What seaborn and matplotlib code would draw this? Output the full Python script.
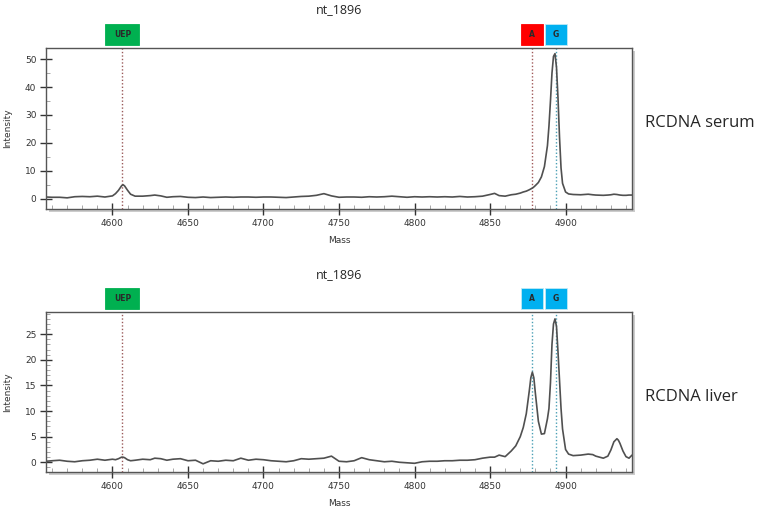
import matplotlib
matplotlib.use("Agg")
import matplotlib.pyplot as plt
import matplotlib.transforms as mtransforms
from matplotlib.patches import Rectangle
from matplotlib.ticker import MultipleLocator
import seaborn as sns

# mass axis shared by both spectra
mass = [4556, 4560, 4565, 4570, 4575, 4580, 4585, 4590, 4595, 4600,
        4602, 4604, 4606, 4607, 4608, 4610, 4612, 4615, 4620, 4625,
        4628, 4632, 4636, 4640, 4645, 4650, 4655, 4660, 4665, 4670,
        4675, 4680, 4685, 4690, 4695, 4700, 4705, 4710, 4715, 4720,
        4725, 4730, 4735, 4740, 4745, 4750, 4755, 4760, 4765, 4770,
        4775, 4780, 4785, 4790, 4795, 4800, 4805, 4810, 4815, 4820,
        4825, 4830, 4835, 4840, 4845, 4850, 4853, 4856, 4860, 4864,
        4867, 4870, 4872, 4874, 4876, 4877, 4878, 4879, 4880, 4882,
        4884, 4886, 4888, 4889, 4890, 4891, 4892, 4893, 4894, 4895,
        4896, 4897, 4898, 4900, 4902, 4905, 4910, 4915, 4918, 4920,
        4925, 4928, 4930, 4932, 4934, 4935, 4936, 4938, 4940, 4942, 4944]

serum = [0.6, 0.5, 0.5, 0.3, 0.7, 0.8, 0.7, 0.9, 0.6, 1.0,
         1.8, 3.0, 4.6, 5.0, 4.6, 3.0, 1.6, 0.9, 0.9, 1.1,
         1.3, 1.0, 0.5, 0.7, 0.8, 0.5, 0.4, 0.6, 0.4, 0.5,
         0.6, 0.5, 0.6, 0.6, 0.5, 0.6, 0.6, 0.5, 0.4, 0.6,
         0.8, 0.9, 1.2, 1.8, 1.0, 0.5, 0.6, 0.6, 0.5, 0.7,
         0.6, 0.7, 0.9, 0.7, 0.5, 0.7, 0.6, 0.7, 0.6, 0.7,
         0.6, 0.8, 0.6, 0.7, 0.9, 1.5, 1.9, 1.1, 0.9, 1.4,
         1.6, 2.0, 2.4, 2.7, 3.2, 3.5, 3.8, 4.2, 4.7, 5.8,
         7.8, 11.5, 19.0, 26.0, 35.0, 45.0, 51.0, 52.0, 47.0, 36.0,
         22.0, 11.0, 5.5, 2.4, 1.7, 1.5, 1.4, 1.6, 1.4, 1.3,
         1.2, 1.3, 1.4, 1.6, 1.5, 1.4, 1.3, 1.2, 1.2, 1.3, 1.3]

liver = [0.2, 0.3, 0.4, 0.2, 0.1, 0.3, 0.4, 0.6, 0.4, 0.6,
         0.5, 0.7, 1.0, 1.0, 0.9, 0.5, 0.3, 0.4, 0.6, 0.5,
         0.8, 0.7, 0.4, 0.6, 0.7, 0.3, 0.4, -0.3, 0.3, 0.2,
         0.4, 0.3, 0.8, 0.4, 0.6, 0.5, 0.3, 0.2, 0.1, 0.3,
         0.7, 0.6, 0.7, 0.8, 1.2, 0.2, 0.1, 0.3, 0.9, 0.5,
         0.3, 0.1, 0.2, 0.0, -0.1, -0.2, 0.1, 0.2, 0.2, 0.3,
         0.3, 0.4, 0.4, 0.5, 0.8, 1.0, 1.0, 1.4, 1.1, 2.2,
         3.2, 5.0, 6.8, 9.5, 14.0, 16.5, 17.6, 16.5, 13.5, 8.0,
         5.5, 5.6, 8.5, 10.5, 15.5, 23.0, 27.0, 28.0, 26.5, 21.5,
         16.0, 10.5, 6.5, 2.5, 1.6, 1.3, 1.4, 1.6, 1.5, 1.2,
         0.8, 1.2, 2.4, 4.0, 4.6, 4.3, 3.7, 2.2, 1.1, 0.8, 1.4]

# peak markers: name, expected mass
marker_names = ["UEP", "A", "G"]
marker_mass = [4606.6, 4877.6, 4893.4]
serum_colors = ["#00b050", "#ff0000", "#00b0f0"]
liver_colors = ["#00b050", "#00b0f0", "#00b0f0"]

sns.set_theme(style="white")
plt.rcParams['font.family'] = ['DejaVu Sans']

GREEN, RED, BLUE = "#00b050", "#ff0000", "#00b0f0"
line_col = {GREEN: "#9a5a5a", RED: "#a05a5a", BLUE: "#4a9fb5"}


def panel(ax, y, colors, ylim, ystep, yminor):
    sns.lineplot(x=mass, y=y, ax=ax, color="#505050", linewidth=1.2)
    ax.set_xlim(4556, 4944)
    ax.set_ylim(*ylim)
    ax.xaxis.set_major_locator(MultipleLocator(50))
    ax.xaxis.set_minor_locator(MultipleLocator(10))
    ax.yaxis.set_major_locator(MultipleLocator(ystep))
    ax.yaxis.set_minor_locator(MultipleLocator(yminor))
    ax.tick_params(which="major", direction="inout", length=8, width=1,
                   color="#333333", labelsize=6.5, labelcolor="#333333",
                   pad=3, bottom=True, left=True)
    ax.tick_params(which="minor", direction="in", length=3, width=0.6,
                   color="#999999", bottom=True, left=True)
    for s in ax.spines.values():
        s.set_color("#555555")
        s.set_linewidth(1)
    ax.set_xlabel("Mass", fontsize=6.5, labelpad=6, color="#333333")
    ax.set_ylabel("Intensity", fontsize=6.5, labelpad=9, color="#333333")

    trans = mtransforms.blended_transform_factory(ax.transData, ax.transAxes)
    for name, m, c in zip(marker_names, marker_mass, colors):
        ax.axvline(m, color=line_col[c], ls=(0, (1, 1.5)), lw=1, zorder=1)
        w = 22.5 if name == "UEP" else 14.6
        ax.add_patch(Rectangle((m - w / 2, 1.019), w, 0.13, transform=trans,
                               facecolor=c, edgecolor="#bfe9f5" if c == BLUE else c,
                               lw=0.6, clip_on=False))
        ax.text(m, 1.019 + 0.065, name, transform=trans, ha="center", va="center",
                fontsize=5.5, fontweight="bold", color="#2a2a2a")


fig = plt.figure(figsize=(7.58, 5.11), dpi=100)
ax1 = fig.add_axes([0.0607, 0.591, 0.7731, 0.315])
ax2 = fig.add_axes([0.0607, 0.0763, 0.7731, 0.3137])

# drop shadows behind the plot frames
for ax in (ax1, ax2):
    p = ax.get_position()
    fig.patches.append(Rectangle((p.x0 + 3 / 758, p.y0 - 3 / 511), p.width, p.height,
                                 transform=fig.transFigure, facecolor="#cccccc",
                                 edgecolor="none", zorder=-5))

panel(ax1, serum, serum_colors, (-3.7, 54), 10, 5)
panel(ax2, liver, liver_colors, (-1.9, 29.4), 5, 1)

fig.text(339 / 758, 1 - 10 / 511, "nt_1896", ha="center", va="center", fontsize=9,
         family=["Open Sans", "DejaVu Sans"])
fig.text(339 / 758, 1 - 275 / 511, "nt_1896", ha="center", va="center", fontsize=9,
         family=["Open Sans", "DejaVu Sans"])
fig.text(645 / 758, 1 - 123 / 511, "RCDNA serum", ha="left", va="center", fontsize=12,
         family=["Open Sans", "DejaVu Sans"])
fig.text(645 / 758, 1 - 397 / 511, "RCDNA liver", ha="left", va="center", fontsize=12,
         family=["Open Sans", "DejaVu Sans"])

fig.savefig("out.png", dpi=100)
